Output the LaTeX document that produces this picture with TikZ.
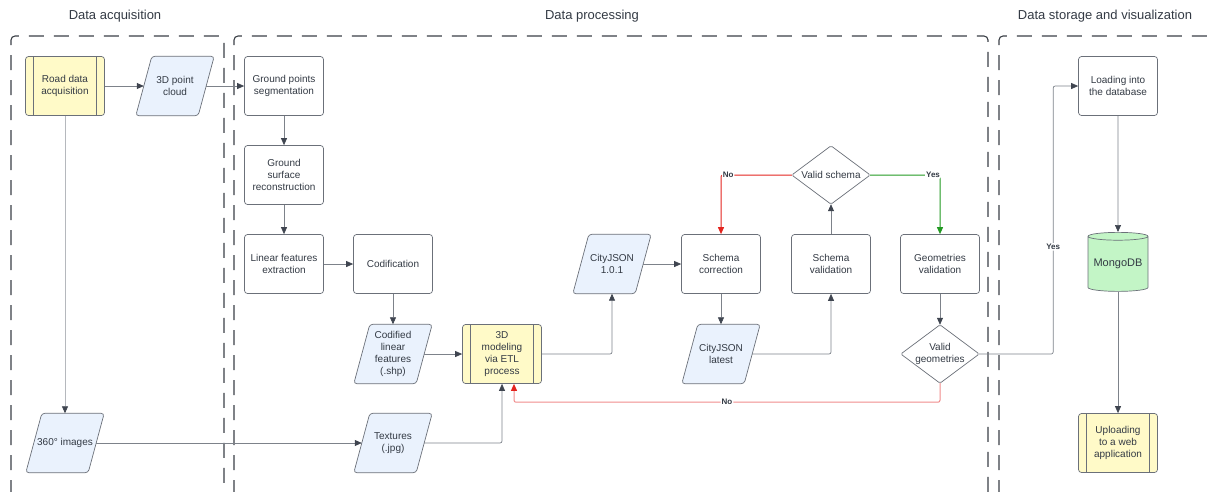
\documentclass[tikz,border=0pt]{standalone}
\usepackage{fontspec}
\setmainfont{Liberation Sans}
\usetikzlibrary{arrows.meta,shapes.geometric,backgrounds,calc}
\definecolor{ln}{HTML}{7D828A}
\definecolor{lnl}{HTML}{B5B8BD}
\definecolor{tip}{HTML}{3F4550}
\definecolor{bd}{HTML}{6B7079}
\definecolor{tx}{HTML}{333A44}
\definecolor{yel}{HTML}{FFFAC8}
\definecolor{blu}{HTML}{EAF2FD}
\definecolor{grn}{HTML}{C3F5C6}
\definecolor{rd}{HTML}{E3241E}
\definecolor{rdl}{HTML}{F08C8C}
\definecolor{gr}{HTML}{229922}
\definecolor{pan}{HTML}{3A3F46}
\tikzset{
 nfont/.style={font=\fontsize{10}{12}\selectfont, text=tx},
 box/.style={nfont, draw=bd, line width=0.7pt, rounded corners=3pt, fill=white, minimum width=79pt, minimum height=59pt, inner sep=0pt, align=center},
 procbox/.style={box, fill=yel, path picture={
   \draw[bd,line width=0.7pt] ([xshift=8pt]path picture bounding box.north west) -- ([xshift=8pt]path picture bounding box.south west);
   \draw[bd,line width=0.7pt] ([xshift=-8pt]path picture bounding box.north east) -- ([xshift=-8pt]path picture bounding box.south east);}},
 paratext/.style={nfont, minimum width=62pt, minimum height=59pt, inner sep=0pt, align=center},
 diatext/.style={nfont, minimum width=78pt, minimum height=58pt, inner sep=0pt, align=center},
 parashape/.style={draw=bd, line width=0.7pt, fill=blu, rounded corners=3pt},
 diashape/.style={draw=bd, line width=0.7pt, fill=white, rounded corners=1.5pt},
 conn/.style={draw=ln, line width=0.7pt, rounded corners=2pt, -{Triangle[length=7pt,width=6pt,color=tip]}},
 panel/.style={draw=pan, line width=1.1pt, dash pattern=on 15pt off 10pt, rounded corners=4pt},
 elab/.style={fill=white, inner sep=1pt, font=\bfseries\fontsize{8}{9}\selectfont, text=tx},
 ttl/.style={font=\fontsize{13}{15}\selectfont, text=tx}
}
\newcommand\mypara[3]{%
 \node[paratext] (#1) at (#2) {#3};
 \begin{scope}[on background layer]
 \path[parashape] ([xshift=8pt]#1.north west) -- ([xshift=8pt]#1.north east) -- ([xshift=-8pt]#1.south east) -- ([xshift=-8pt]#1.south west) -- cycle;
 \end{scope}}
\newcommand\mydia[3]{%
 \node[diatext] (#1) at (#2) {#3};
 \begin{scope}[on background layer]
 \path[diashape] (#1.north) -- (#1.east) -- (#1.south) -- (#1.west) -- cycle;
 \end{scope}}
\begin{document}
\begin{tikzpicture}[x=1pt,y=-1pt]
\useasboundingbox (0,0) rectangle (1208,491);
% panels
\draw[panel] (11,520) -- (11,36) -- (224,36) -- (224,520);
\draw[panel] (234,520) -- (234,36) -- (988,36) -- (988,520);
\draw[panel] (999,520) -- (999,36) -- (1230,36);
\node[ttl] (t1) at (115,16) {Data acquisition};
\node[ttl] (t2) at (592,16) {Data processing};
\node[ttl] (t3) at (1105,16) {Data storage and visualization};
% nodes
\node[procbox] (road) at (65,86) {Road data\\acquisition};
\mypara{cloud}{175,86}{3D point\\cloud}
\node[box] (gps) at (284,86) {Ground points\\segmentation};
\node[box] (gsr) at (284,175) {Ground\\surface\\reconstruction};
\node[box] (lfe) at (284,264) {Linear features\\extraction};
\node[box] (cod) at (393,264) {Codification};
\mypara{codl}{393,354}{Codified\\linear\\features\\(.shp)}
\node[procbox] (etl) at (502,354) {3D\\modeling\\via ETL\\process};
\mypara{img}{65,443}{360° images}
\mypara{tex}{393,443}{Textures\\(.jpg)}
\mypara{cj}{612,264}{CityJSON\\1.0.1}
\node[box] (sc) at (721,264) {Schema\\correction};
\mypara{cjl}{721,354}{CityJSON\\latest}
\node[box] (sv) at (831,264) {Schema\\validation};
\mydia{vs}{831,175}{Valid schema}
\node[box] (gv) at (940,264) {Geometries\\validation};
\mydia{vg}{940,354}{Valid\\geometries}
\node[box] (ldb) at (1118,86) {Loading into\\the database};
\node[cylinder, shape border rotate=90, aspect=0.16, draw=bd, line width=0.7pt, fill=grn, minimum width=60pt, minimum height=59pt, inner sep=0pt, font=\fontsize{11}{13}\selectfont, text=tx] (mdb) at (1118,264) {MongoDB};
\node[procbox] (up) at (1118,443) {Uploading\\to a web\\application};
% connectors
\draw[conn] (road.east) -- (cloud.west);
\draw[conn] (cloud.east) -- (gps.west);
\draw[conn] (gps.south) -- (gsr.north);
\draw[conn] (gsr.south) -- (lfe.north);
\draw[conn] (lfe.east) -- (cod.west);
\draw[conn] (cod.south) -- (codl.north);
\draw[conn] (codl.east) -- (etl.west);
\draw[conn, draw=lnl] (road.south) -- (img.north);
\draw[conn] (img.east) -- (tex.west);
\draw[conn] (tex.east) -| (etl.south);
\draw[conn] (etl.east) -| (cj.south);
\draw[conn] (cj.east) -- (sc.west);
\draw[conn] (sc.south) -- (cjl.north);
\draw[conn] (cjl.east) -| (sv.south);
\draw[conn] (sv.north) -- (vs.south);
\draw[conn, draw=rd, line width=1pt, -{Triangle[length=7pt,width=6pt,color=rd]}] (vs.west) -| (sc.north) node[elab, pos=0.45] {No};
\draw[conn, draw=gr, line width=1pt, -{Triangle[length=7pt,width=6pt,color=gr]}] (vs.east) -| (gv.north) node[elab, pos=0.45] {Yes};
\draw[conn] (gv.south) -- (vg.north);
\draw[conn, draw=rdl, line width=1pt, -{Triangle[length=7pt,width=6pt,color=rd]}] (vg.south) -- ++(0,19) -| ([xshift=12pt]etl.south) node[elab, pos=0.25] {No};
\draw[conn] (vg.east) -- ++(74,0) |- (ldb.west) node[elab, pos=0.2] {Yes};
\draw[conn] (ldb.south) -- (mdb.north);
\draw[conn] (mdb.south) -- (up.north);
\end{tikzpicture}
\end{document}
